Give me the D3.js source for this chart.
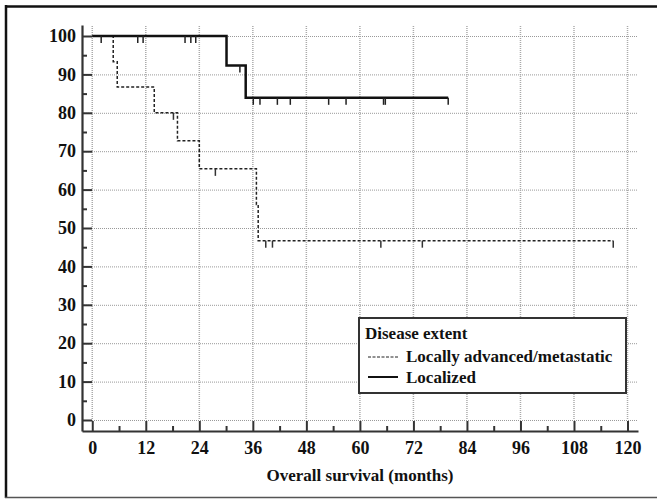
<!DOCTYPE html>
<html>
<head>
<meta charset="utf-8">
<script src="https://cdn.jsdelivr.net/npm/d3@7/dist/d3.min.js"></script>
<style>
  body { margin: 0; background: #fff; }
  svg { display: block; }
  text { font-family: "Liberation Serif", "Times New Roman", serif; font-weight: bold; fill: #111; }
</style>
</head>
<body>
<div id="chart"></div>
<script>
// data
var xTicks = [0, 12, 24, 36, 48, 60, 72, 84, 96, 108, 120];
var yTicks = [0, 10, 20, 30, 40, 50, 60, 70, 80, 90, 100];

// Localized (solid)
var locTimes = [0, 30.1, 34.4, 79.8];
var locSurv = [100, 92.3, 83.9, 83.9];
var locCensor = [2.0, 10.2, 11.4, 20.8, 22.1, 23.2, 33.1, 36.1, 37.6, 41.5, 44.4, 53.0, 56.9, 65.3, 65.7, 79.8];

// Locally advanced/metastatic (dashed)
var advTimes = [0, 4.7, 5.6, 13.9, 19.1, 24.0, 36.8, 37.2, 116.8];
var advSurv = [100, 93.3, 86.7, 80.0, 72.7, 65.4, 56.1, 46.7, 46.7];
var advCensor = [18.2, 27.6, 38.9, 40.4, 64.7, 74.0, 116.8];

var svgWidth = 657;
var svgHeight = 499;

var svg = d3.select("#chart")
    .append("svg")
    .attr("width", svgWidth)
    .attr("height", svgHeight);

// outer frame
svg.append("line").attr("x1", 6).attr("y1", 6.5).attr("x2", 660).attr("y2", 6.5)
    .attr("stroke", "#111").attr("stroke-width", 2.5);
svg.append("line").attr("x1", 6).attr("y1", 5).attr("x2", 6).attr("y2", 498)
    .attr("stroke", "#111").attr("stroke-width", 2.5);
svg.append("line").attr("x1", 5).attr("y1", 497.5).attr("x2", 660).attr("y2", 497.5)
    .attr("stroke", "#555").attr("stroke-width", 1.5);

// scales (padded so that the axis lines sit outside 0 / 120 and 0 / 100)
var x = d3.scaleLinear().domain([-2.3, 122.35]).range([82, 638]);
var y = d3.scaleLinear().domain([-2.865, 102.865]).range([431, 25]);

//grid
var grid = svg.append("g").attr("stroke", "#999").attr("stroke-width", 1)
    .attr("stroke-dasharray", "1,1");
grid.selectAll(".hg").data(yTicks).enter().append("line")
    .attr("x1", 82).attr("x2", 637)
    .attr("y1", d => y(d) + 0.5).attr("y2", d => y(d) + 0.5);
grid.selectAll(".vg").data(xTicks).enter().append("line")
    .attr("x1", d => x(d)).attr("x2", d => x(d))
    .attr("y1", 26).attr("y2", 420)
    .attr("stroke", "#aaa").attr("stroke-width", 1.5);

//axes
var leftAxis = d3.axisLeft(y).tickValues(yTicks).tickSizeInner(-10).tickSizeOuter(0).tickPadding(6);
svg.append("g").attr("transform", "translate(82,0)").call(leftAxis);
var leftMinor = d3.axisLeft(y).tickValues(d3.range(5, 100, 10)).tickSize(-5).tickFormat("");
svg.append("g").attr("transform", "translate(82,0)").call(leftMinor).select(".domain").remove();

var bottomAxis = d3.axisBottom(x).tickValues(xTicks).tickSizeInner(-10).tickSizeOuter(0).tickPadding(10);
svg.append("g").attr("transform", "translate(0,431)").call(bottomAxis);
var bottomMinor = d3.axisBottom(x).tickValues(d3.range(6, 120, 12)).tickSize(-5).tickFormat("");
svg.append("g").attr("transform", "translate(0,431)").call(bottomMinor).select(".domain").remove();

svg.selectAll(".domain").attr("stroke", "#333").attr("stroke-width", 2.2);
svg.selectAll(".tick line").attr("stroke", "#333").attr("stroke-width", 2);
svg.selectAll(".tick text").style("font-size", "18px").attr("fill", "#111");

// x label
svg.append("text")
    .attr("x", 360).attr("y", 481)
    .attr("text-anchor", "middle")
    .style("font-size", "17px")
    .text("Overall survival (months)");

// curves
function pts(times, surv) {
    return times.map((t, i) => [t, surv[i]]);
}
function survAt(times, surv, t) {
    var s = surv[0];
    for (var i = 0; i < times.length; i++) { if (times[i] <= t) s = surv[i]; }
    return s;
}
var line = d3.line().x(d => x(d[0])).y(d => y(d[1])).curve(d3.curveStepAfter);

svg.append("path").datum(pts(advTimes, advSurv))
    .attr("d", line).attr("fill", "none")
    .attr("stroke", "#222").attr("stroke-width", 1.5).attr("stroke-dasharray", "3,2");

svg.append("path").datum(pts(locTimes, locSurv))
    .attr("d", line).attr("fill", "none")
    .attr("stroke", "#111").attr("stroke-width", 2.5);

// censor marks
svg.selectAll(".cadv").data(advCensor).enter().append("line")
    .attr("x1", d => x(d)).attr("x2", d => x(d))
    .attr("y1", d => y(survAt(advTimes, advSurv, d)))
    .attr("y2", d => y(survAt(advTimes, advSurv, d)) + 7)
    .attr("stroke", "#333").attr("stroke-width", 1.5);

svg.selectAll(".cloc").data(locCensor).enter().append("line")
    .attr("x1", d => x(d)).attr("x2", d => x(d))
    .attr("y1", d => y(survAt(locTimes, locSurv, d)))
    .attr("y2", d => y(survAt(locTimes, locSurv, d)) + 7)
    .attr("stroke", "#222").attr("stroke-width", 1.5);

//legend
var legend = svg.append("g");
legend.append("rect")
    .attr("x", 359).attr("y", 318).attr("width", 267).attr("height", 75)
    .attr("fill", "#fff").attr("stroke", "#333").attr("stroke-width", 2);
legend.append("text").attr("x", 365).attr("y", 339).style("font-size", "17px").text("Disease extent");
legend.append("line").attr("x1", 368).attr("x2", 398).attr("y1", 357).attr("y2", 357)
    .attr("stroke", "#222").attr("stroke-width", 1).attr("stroke-dasharray", "3,1.5");
legend.append("text").attr("x", 406).attr("y", 362).style("font-size", "17px").text("Locally advanced/metastatic");
legend.append("line").attr("x1", 368).attr("x2", 398).attr("y1", 377).attr("y2", 377)
    .attr("stroke", "#111").attr("stroke-width", 2);
legend.append("text").attr("x", 406).attr("y", 383).style("font-size", "17px").text("Localized");
</script>
</body>
</html>
